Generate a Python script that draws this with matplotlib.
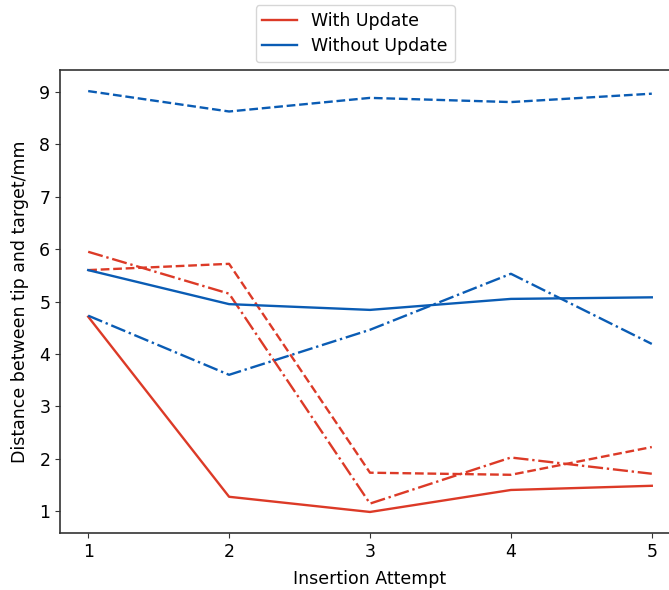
import matplotlib.pyplot as plt
from matplotlib.lines import Line2D

attempts = [1, 2, 3, 4, 5]

# distances with the model update
with_solid = [4.71, 1.27, 0.98, 1.40, 1.48]
with_dashed = [5.60, 5.72, 1.73, 1.69, 2.22]
with_dashdot = [5.95, 5.15, 1.14, 2.02, 1.71]

# distances without the model update
without_solid = [5.60, 4.95, 4.84, 5.05, 5.08]
without_dashed = [9.02, 8.63, 8.89, 8.81, 8.97]
without_dashdot = [4.73, 3.60, 4.46, 5.53, 4.19]

red = '#dc3a27'
blue = '#0a5cb4'
fs = 12.5
lw = 1.7

fig = plt.figure(figsize=(6.69, 5.9), dpi=100)
ax = fig.add_axes([0.0897, 0.0966, 0.9267, 0.7847])

ax.plot(attempts, with_solid, color=red, lw=lw, linestyle='-')
ax.plot(attempts, with_dashed, color=red, lw=lw, linestyle='--')
ax.plot(attempts, with_dashdot, color=red, lw=lw, linestyle='-.')
ax.plot(attempts, without_solid, color=blue, lw=lw, linestyle='-')
ax.plot(attempts, without_dashed, color=blue, lw=lw, linestyle='--')
ax.plot(attempts, without_dashdot, color=blue, lw=lw, linestyle='-.')

for s in ax.spines.values():
    s.set_color('#333333')
    s.set_linewidth(1.2)
ax.tick_params(labelsize=fs, color='#333333')
ax.set_xticks(attempts)
ax.set_yticks(range(1, 10))
ax.set_xlabel('Insertion Attempt', fontsize=fs, labelpad=7)
ax.set_ylabel('Distance between tip and target/mm', fontsize=fs, labelpad=7)

handles = [Line2D([], [], color=red, lw=lw), Line2D([], [], color=blue, lw=lw)]
fig.legend(handles, ['With Update', 'Without Update'], loc='upper center',
           bbox_to_anchor=(355 / 669, 1.006), fontsize=fs, labelspacing=0.4)

fig.savefig('out.png', dpi=100)
